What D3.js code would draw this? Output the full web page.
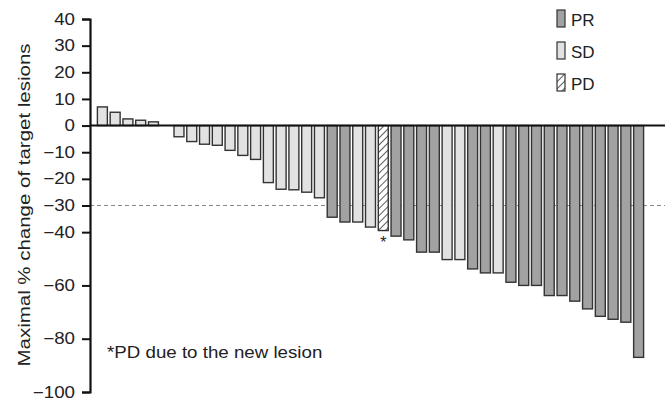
<!DOCTYPE html>
<html>
<head>
<meta charset="utf-8">
<script src="https://cdn.jsdelivr.net/npm/d3@7"></script>
<style>
  body { margin: 0; background: #fff; }
  svg text { font-family: "Liberation Sans", Arial, Helvetica, sans-serif; fill: #222; }
</style>
</head>
<body>
<div id="chart"></div>
<script>
(function() {

    var w = 665;
    var h = 398;

    // maximal % change per patient, sorted
    var changes = [7.0, 5.0, 2.5, 2.0, 1.4, 0, -4.2, -6.0, -7.0, -7.4, -9.3, -11.2, -12.7,
        -21.4, -23.9, -24.1, -25.0, -27.1, -34.4, -36.2, -36.2, -38.1, -39.4, -41.5, -42.9,
        -47.5, -47.5, -50.3, -50.3, -53.8, -55.3, -55.3, -58.8, -60.0, -60.0, -63.8, -63.8,
        -65.9, -68.8, -71.6, -72.7, -73.8, -87.0];
    var responses = ["SD", "SD", "SD", "SD", "SD", "SD", "SD", "SD", "SD", "SD", "SD", "SD", "SD",
        "SD", "SD", "SD", "SD", "SD", "PR", "PR", "SD", "SD", "PD", "PR", "PR",
        "PR", "PR", "SD", "SD", "PR", "PR", "SD", "PR", "PR", "PR", "PR", "PR",
        "PR", "PR", "PR", "PR", "PR", "PR"];
    var legendKeys = ["PR", "SD", "PD"];
    var yTicks = [40, 30, 20, 10, 0, -10, -20, -30, -40, -60, -80, -100];
    var threshold = -30;

    var fills = { PR: "#a2a2a2", SD: "#e2e2e2", PD: "url(#hatch)" };
    var stretch = 1.17; // glyphs in the original are a bit wide

    var svg = d3.select("#chart")
        .append("svg")
        .attr("width", w)
        .attr("height", h);

    // hatch pattern for PD
    var pat = svg.append("defs").append("pattern")
        .attr("id", "hatch")
        .attr("patternUnits", "userSpaceOnUse")
        .attr("width", 5)
        .attr("height", 5)
        .attr("patternTransform", "rotate(45)");
    pat.append("rect").attr("width", 5).attr("height", 5).attr("fill", "#fff");
    pat.append("line")
        .attr("x1", 0).attr("y1", 0).attr("x2", 0).attr("y2", 5)
        .attr("stroke", "#333").attr("stroke-width", 1.6);

    var y = d3.scaleLinear()
        .domain([-100, 40])
        .range([392, 19]);

    var x = d3.scaleBand()
        .domain(d3.range(changes.length))
        .range([96, 645])
        .paddingInner(0.22)
        .paddingOuter(0.11);

    // dashed -30% line
    svg.append("line")
        .attr("x1", 90).attr("x2", w)
        .attr("y1", y(threshold)).attr("y2", y(threshold))
        .attr("stroke", "#888")
        .attr("stroke-width", 1)
        .attr("stroke-dasharray", "4,3");

    // bars
    svg.selectAll("rect.bar")
        .data(changes)
        .enter()
        .append("rect")
        .attr("class", "bar")
        .attr("x", function(d, i) { return x(i); })
        .attr("width", x.bandwidth())
        .attr("y", function(d) { return y(Math.max(0, d)); })
        .attr("height", function(d) { return Math.abs(y(d) - y(0)); })
        .attr("fill", function(d, i) { return fills[responses[i]]; })
        .attr("stroke", "#333")
        .attr("stroke-width", 1.4);

    // asterisk under PD bar
    var pdIndex = responses.indexOf("PD");
    svg.append("text")
        .attr("x", x(pdIndex) + x.bandwidth() / 2)
        .attr("y", y(changes[pdIndex]) + 17)
        .attr("text-anchor", "middle")
        .attr("font-size", 16)
        .text("*");

    // zero line
    svg.append("line")
        .attr("x1", 90).attr("x2", w)
        .attr("y1", y(0)).attr("y2", y(0))
        .attr("stroke", "#111")
        .attr("stroke-width", 2);

    // y axis
    var yAxis = svg.append("g")
        .attr("transform", "translate(90,0)")
        .call(d3.axisLeft(y).tickValues(yTicks).tickSize(8)
            .tickFormat(function(d) { return d < 0 ? "\u2212" + Math.abs(d) : d; }));
    yAxis.select(".domain").attr("stroke", "#111").attr("stroke-width", 2.2);
    yAxis.selectAll(".tick line").attr("stroke", "#111").attr("stroke-width", 2);
    yAxis.selectAll(".tick text")
        .attr("x", 0)
        .attr("transform", "translate(-15,0) scale(" + stretch + ",1)")
        .attr("font-size", 16)
        .attr("fill", "#222")
        .attr("font-family", "Liberation Sans, Arial, sans-serif");

    // y label
    svg.append("text")
        .attr("transform", "translate(30,205) rotate(-90) scale(1.28,1)")
        .attr("text-anchor", "middle")
        .attr("font-size", 16)
        .text("Maximal % change of target lesions");

    // note
    svg.append("text")
        .attr("transform", "translate(107,358) scale(" + stretch + ",1)")
        .attr("font-size", 16)
        .text("*PD due to the new lesion");

    // legend
    var legend = svg.selectAll("g.legend")
        .data(legendKeys)
        .enter()
        .append("g")
        .attr("class", "legend")
        .attr("transform", function(d, i) { return "translate(557," + (10 + i * 32) + ")"; });
    legend.append("rect")
        .attr("width", 8)
        .attr("height", 17)
        .attr("fill", function(d) { return fills[d]; })
        .attr("stroke", "#333")
        .attr("stroke-width", 1.2);
    legend.append("text")
        .attr("x", 14)
        .attr("y", 16)
        .attr("font-size", 17)
        .text(function(d) { return d; });

})();
</script>
</body>
</html>
